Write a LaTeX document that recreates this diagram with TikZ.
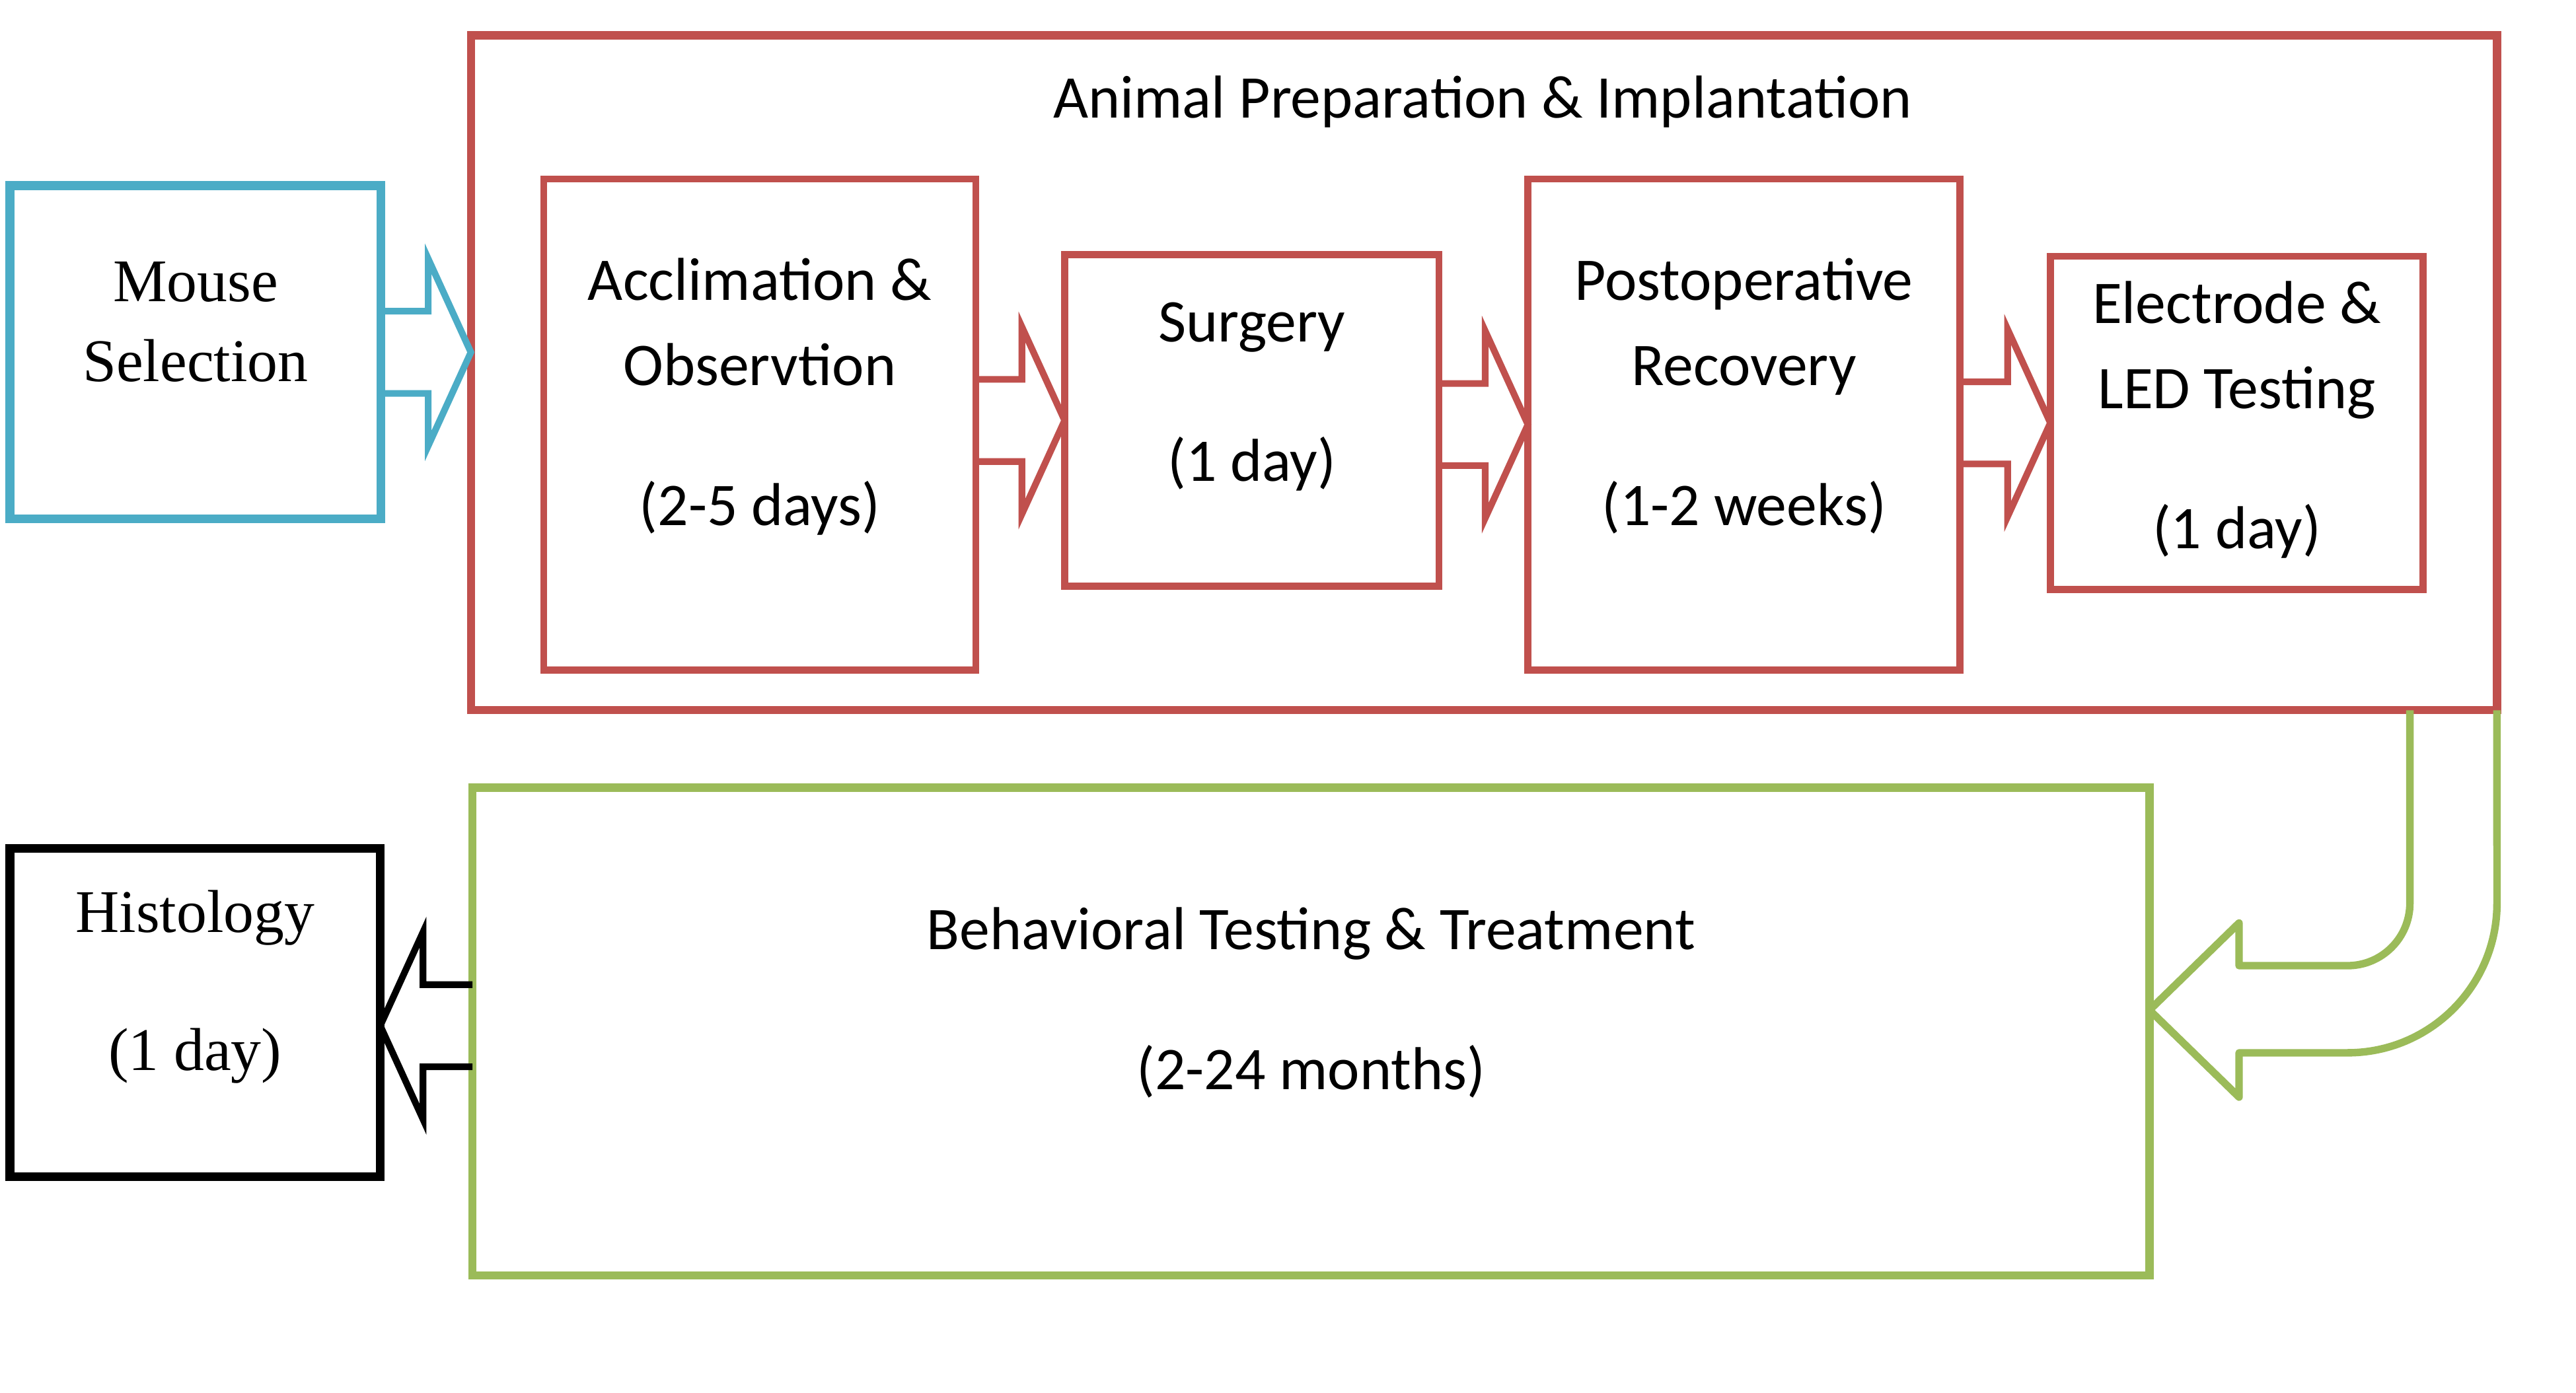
\documentclass[tikz,border=0pt]{standalone}
\usepackage{fontspec}
\setmainfont{Carlito}
\newfontfamily\timesfont{Liberation Serif}
\usepackage{tikz}
\usetikzlibrary{calc}

\definecolor{msblue}{HTML}{4BACC6}
\definecolor{msred}{HTML}{C0504D}
\definecolor{msgreen}{HTML}{9BBB59}

\newcommand{\fatarrow}[4]{%
  \draw[arrowline=#3] ($(#1 |- #2)+(0,-25)$) -- ($(#2)+(#4,-25)$) -- ($(#2)+(#4,-57)$) -- (#2)
    -- ($(#2)+(#4,57)$) -- ($(#2)+(#4,25)$) -- ($(#1 |- #2)+(0,25)$);}

\begin{document}
\begin{tikzpicture}[
  x=0.02cm, y=-0.02cm,
  box/.style={draw=#1, line width=2.8pt, inner sep=0pt, outer sep=0pt},
  stepbox/.style={draw=msred, line width=2.4pt, inner sep=0pt, outer sep=0pt},
  arrowline/.style={draw=#1, line width=2.3pt, line join=miter},
  txt/.style={font=\fontsize{21}{29.6}\selectfont, align=center, inner sep=0pt},
  sertxt/.style={font=\timesfont\fontsize{21}{27.9}\selectfont, align=center, inner sep=0pt}
]
\useasboundingbox (0,0) rectangle (1568,848);

\node[box=msblue, line width=3pt, minimum width=4.52cm, minimum height=4.06cm] (ms) at (119,214.5) {};
\node[box=msred, minimum width=24.67cm, minimum height=8.22cm] (prep) at (903.25,227) {};
\node[stepbox, minimum width=5.26cm, minimum height=5.98cm] (acc) at (462.5,258.5) {};
\node[stepbox, minimum width=4.56cm, minimum height=4.04cm] (sur) at (762,256) {};
\node[stepbox, minimum width=5.26cm, minimum height=5.98cm] (rec) at (1061.5,258.5) {};
\node[stepbox, minimum width=4.54cm, minimum height=4.06cm] (led) at (1361.5,257.5) {};
\node[box=msgreen, minimum width=20.42cm, minimum height=5.94cm] (beh) at (798,628) {};
\node[box=black, line width=3pt, minimum width=4.51cm, minimum height=4.0cm] (his) at (118.75,616.5) {};

\node[sertxt] (ms-t) at (119,196) {Mouse\\Selection};
\node[txt] (prep-t) at (902.5,62) {Animal Preparation \& Implantation};
\node[txt] (acc-t) at (462.5,241.5) {Acclimation \&\\Observtion\\[18.8pt](2-5 days)};
\node[txt] (sur-t) at (762,241.5) {Surgery\\[18.8pt](1 day)};
\node[txt] (rec-t) at (1061.5,241) {Postoperative\\Recovery\\[18.8pt](1-2 weeks)};
\node[txt] (led-t) at (1361.5,255.5) {Electrode \&\\LED Testing\\[18.8pt](1 day)};
\node[txt] (beh-t) at (798,610.5) {Behavioral Testing \& Treatment\\[18.8pt](2-24 months)};
\node[sertxt] (his-t) at (118.75,601) {Histology\\[19.9pt](1 day)};

\coordinate (prep-in) at (prep.west |- ms.east);
\coordinate (his-in) at ($(his.east)+(0,8)$);
\fatarrow{ms.east}{prep-in}{msblue}{-26}
\fatarrow{acc.east}{sur.west}{msred}{-26}
\fatarrow{sur.east}{rec.west}{msred}{-26}
\fatarrow{rec.east}{led.west}{msred}{-26}
\fatarrow{beh.west}{his-in}{black}{26}

\draw[arrowline=msgreen, line width=2.6pt, line join=round]
  ($(prep.south east)+(-53,0)$) -- ($(prep.south east)+(-53,117.5)$)
  arc[start angle=0, end angle=90, radius=38] -- ++(-66,0) -- ++(0,-26)
  -- (beh.east |- 0,615) -- ++(54.5,53) -- ++(0,-27) -- ++(66,0)
  arc[start angle=90, end angle=0, radius=91] -- (prep.south east);
\end{tikzpicture}
\end{document}
